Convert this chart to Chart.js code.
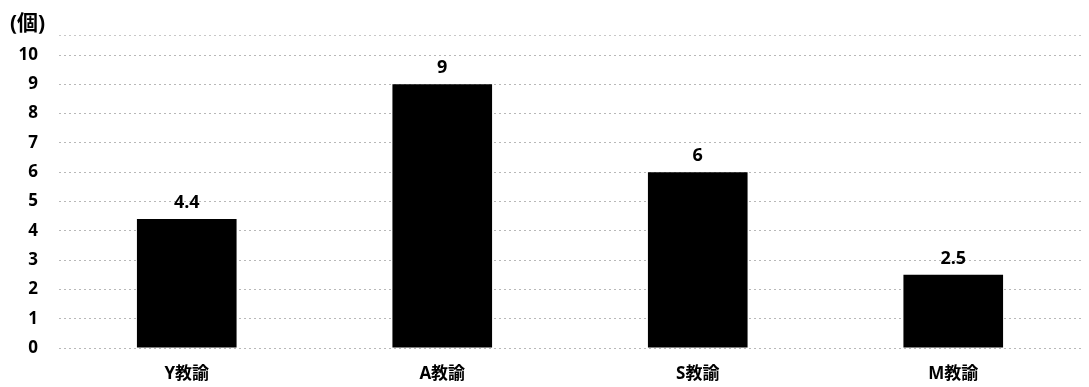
<!DOCTYPE html>
<html>
<head>
<meta charset="utf-8">
<script src="https://cdn.jsdelivr.net/npm/chart.js@4/dist/chart.umd.min.js"></script>
<style>
  html, body { margin: 0; padding: 0; background: #fff; }
  canvas { display: block; }
</style>
</head>
<body>
<canvas id="myChart" width="1089" height="387"></canvas>
<script>
const categories = ["Y教諭", "A教諭", "S教諭", "M教諭"];
const values = [4.4, 9, 6, 2.5];
const valueLabels = ["4.4", "9", "6", "2.5"];
const unitLabel = "(個)";
const FONT = "'Open Sans', 'Noto Sans CJK JP', sans-serif";

// unit label in the top-left corner, plus the faint frame line above the plot
const unitPlugin = {
    id: "unitLabel",
    afterDraw(chart) {
        var ctx = chart.ctx;
        var area = chart.chartArea;
        ctx.save();
        ctx.font = "bold 21px " + FONT;
        ctx.fillStyle = "#000";
        ctx.textBaseline = "middle";
        ctx.textAlign = "left";
        ctx.fillText(unitLabel, 10, 24);

        ctx.strokeStyle = "#c8c8c8";
        ctx.lineWidth = 1;
        ctx.setLineDash([2, 3]);
        ctx.beginPath();
        ctx.moveTo(area.left, 35.5);
        ctx.lineTo(area.right, 35.5);
        ctx.stroke();
        ctx.restore();
    }
};

// value labels above each bar
const valuePlugin = {
    id: "valueLabels",
    afterDatasetsDraw(chart) {
        var ctx = chart.ctx;
        var meta = chart.getDatasetMeta(0);
        ctx.save();
        ctx.font = "bold 18px " + FONT;
        ctx.fillStyle = "#000";
        ctx.textAlign = "center";
        ctx.textBaseline = "bottom";
        meta.data.forEach(function (bar, i) {
            ctx.fillText(valueLabels[i], bar.x, bar.y - 7);
        });
        ctx.restore();
    }
};

new Chart("myChart", {
    type: "bar",
    data: {
        labels: categories,
        datasets: [{
            data: values,
            backgroundColor: "#000",
            borderWidth: 0,
            categoryPercentage: 1,
            barPercentage: 0.39
        }]
    },
    options: {
        responsive: false,
        animation: false,
        layout: { padding: { top: 55, right: 8, left: 0, bottom: 0 } },
        plugins: {
            legend: { display: false },
            tooltip: { enabled: false }
        },
        scales: {
            x: {
                grid: { display: false },
                border: { display: false },
                ticks: {
                    color: "#000",
                    font: { family: FONT, size: 17, weight: "bold" },
                    padding: 8
                },
                afterFit(scale) { scale.height = 39; }
            },
            y: {
                min: 0,
                max: 10,
                grid: {
                    color: "#b8b8b8",
                    lineWidth: 1,
                    drawTicks: false
                },
                border: { display: false, dash: [2, 3] },
                ticks: {
                    stepSize: 1,
                    color: "#000",
                    font: { family: FONT, size: 17, weight: "bold" },
                    padding: 21
                },
                afterFit(scale) { scale.width = 59; }
            }
        }
    },
    plugins: [unitPlugin, valuePlugin]
});
</script>
</body>
</html>
